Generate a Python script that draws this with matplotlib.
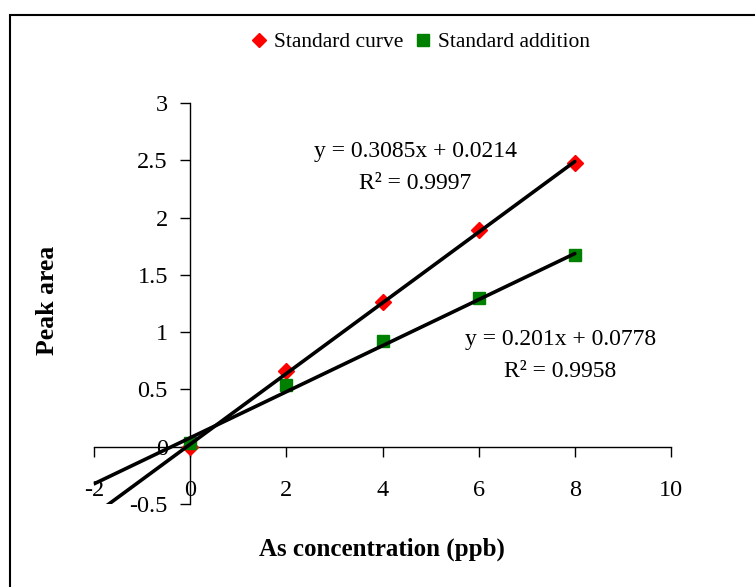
import matplotlib
matplotlib.use("Agg")
import matplotlib.pyplot as plt
from matplotlib.patches import Rectangle
from matplotlib.lines import Line2D
import numpy as np

plt.rcParams['font.family'] = ['Liberation Serif', 'DejaVu Serif']

conc = [0, 2, 4, 6, 8]
std_curve = [0.0, 0.665, 1.26, 1.89, 2.48]
std_addition = [0.035, 0.54, 0.92, 1.30, 1.67]

curve_fit = (0.3085, 0.0214)
addition_fit = (0.201, 0.0778)

xticks = [-2, 0, 2, 4, 6, 8, 10]
yticks = [-0.5, 0, 0.5, 1, 1.5, 2, 2.5, 3]
ytick_labels = ['-0.5', '0', '0.5', '1', '1.5', '2', '2.5', '3']

fig = plt.figure(figsize=(7.55, 5.87), dpi=100)
ax = fig.add_axes([94/755, 1-504/587, (671-94)/755, (504-103)/587])
ax.set_xlim(-2, 10)
ax.set_ylim(-0.5, 3)

ax.plot(conc, std_curve, linestyle='none', marker='D', color='#FF0000',
        markersize=8.5, zorder=3, label='Standard curve')
ax.plot(conc, std_addition, linestyle='none', marker='s', color='#008000',
        markersize=8.5, zorder=3, label='Standard addition')

xl = np.array([-2, 8])
ax.plot(xl, curve_fit[0]*xl + curve_fit[1], color='black', lw=2.6, zorder=4,
        solid_capstyle='round')
ax.plot(xl, addition_fit[0]*xl + addition_fit[1], color='black', lw=2.6, zorder=4,
        solid_capstyle='round')

for s in ['top', 'right']:
    ax.spines[s].set_visible(False)
ax.spines['left'].set_position(('data', 0))
ax.spines['bottom'].set_position(('data', 0))
ax.spines['left'].set_linewidth(1.0)
ax.spines['bottom'].set_linewidth(1.0)

ax.set_xticks(xticks)
ax.set_xticklabels([str(t) for t in xticks])
ax.set_yticks(yticks)
ax.set_yticklabels(ytick_labels)
ax.tick_params(axis='x', direction='out', length=7, width=1.0, pad=17, labelsize=17.5)
ax.tick_params(axis='y', direction='out', length=7, width=1.0, pad=9, labelsize=17.5)

ax.text(4.68, 2.58, 'y = 0.3085x + 0.0214', fontsize=17, ha='center', va='center')
ax.text(4.68, 2.30, 'R² = 0.9997', fontsize=17, ha='center', va='center')
ax.text(7.70, 0.935, 'y = 0.201x + 0.0778', fontsize=17, ha='center', va='center')
ax.text(7.70, 0.655, 'R² = 0.9958', fontsize=17, ha='center', va='center')

fig.text(48/755, 1-300/587, 'Peak area', rotation=90, fontsize=18.5,
         fontweight='bold', ha='center', va='center')
fig.text(382/755, 1-549/587, 'As concentration (ppb)', fontsize=18,
         fontweight='bold', ha='center', va='center')

handles = [Line2D([], [], linestyle='none', marker='D', color='#FF0000', markersize=7.5),
           Line2D([], [], linestyle='none', marker='s', color='#008000', markersize=8)]
fig.legend(handles, ['Standard curve', 'Standard addition'], loc='center',
           bbox_to_anchor=(421/755, 1-42/587), ncol=2, frameon=False,
           fontsize=15.5, handlelength=0.6, handletextpad=0.4, columnspacing=0.6)

fig.add_artist(Rectangle((10/755, -0.1), 1.2, 1.1 - 15/587, transform=fig.transFigure,
                         fill=False, edgecolor='black', lw=1.5))

fig.savefig('out.png', dpi=100)
